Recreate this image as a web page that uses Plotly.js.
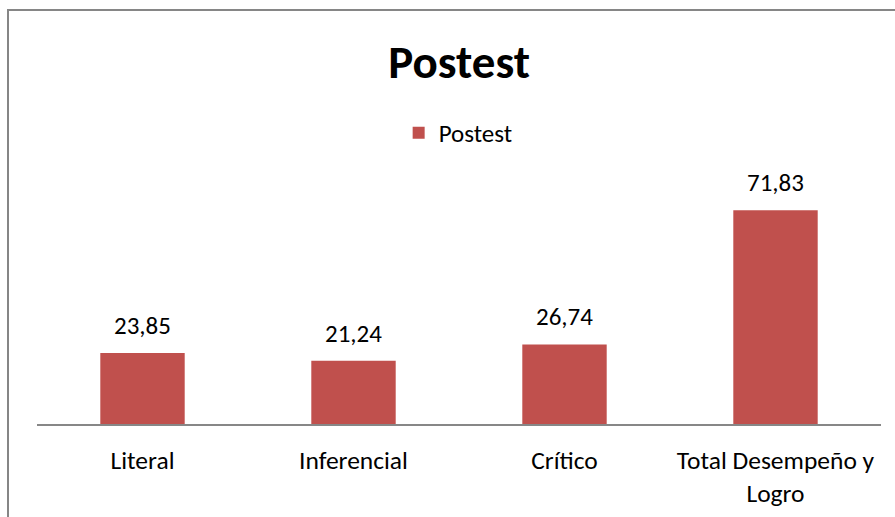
<!DOCTYPE html>
<html>
<head>
<meta charset="utf-8">
<script src="https://cdn.plot.ly/plotly-3.0.1.min.js"></script>
<style>html,body{margin:0;padding:0;background:#fff;} #chart{width:895px;height:517px;}</style>
</head>
<body>
<div id="chart"></div>
<script>
const categories = ["Literal", "Inferencial", "Crítico", "Total Desempeño y<br>Logro"];
const values = [23.85, 21.24, 26.74, 71.83];
const seriesName = "Postest";

const fontFam = "Carlito, Calibri, Lato, sans-serif";

const trace = {
  type: "bar",
  x: categories,
  y: values,
  name: seriesName,
  marker: {color: "#C0504D"},
  hoverinfo: "none"
};

const annotations = categories.map((c, i) => ({
  x: c, y: values[i], xref: "x", yref: "y",
  text: values[i].toFixed(2).replace(".", ","),
  showarrow: false, yanchor: "bottom", yshift: 10,
  font: {family: fontFam, size: 25, color: "#000"}
}));

const layout = {
  width: 895, height: 517,
  margin: {l: 37, r: 14, t: 186, b: 93},
  paper_bgcolor: "#fff", plot_bgcolor: "#fff",
  separators: ",.",
  font: {family: fontFam, size: 25, color: "#000"},
  title: {text: "<b>Postest</b>", x: 0.513, xanchor: "center", y: 1 - 62/517, yanchor: "middle", yref: "container",
          font: {family: fontFam, size: 47, color: "#000"}},
  showlegend: true,
  legend: {orientation: "h", x: 0.499, xanchor: "center", y: 1.223, yanchor: "middle",
           font: {family: fontFam, size: 25, color: "#000"}, bgcolor: "rgba(0,0,0,0)"},
  bargap: 0.6,
  xaxis: {showline: true, linecolor: "#878787", linewidth: 2, ticks: "", showgrid: false,
          ticklabelstandoff: 12,
          tickfont: {family: fontFam, size: 25.5, color: "#000"}, fixedrange: true},
  yaxis: {range: [0, 80], visible: false, showgrid: false, zeroline: false, fixedrange: true},
  annotations: annotations,
  shapes: [{type: "rect", xref: "paper", yref: "paper",
            x0: (8 - 37) / 844, x1: (905 - 37) / 844,
            y0: (424 - 530) / 238, y1: (424 - 10) / 238,
            line: {color: "#868686", width: 2}, fillcolor: "rgba(0,0,0,0)", layer: "below"}]
};

Plotly.newPlot("chart", [trace], layout, {displayModeBar: false, staticPlot: true});
</script>
</body>
</html>
